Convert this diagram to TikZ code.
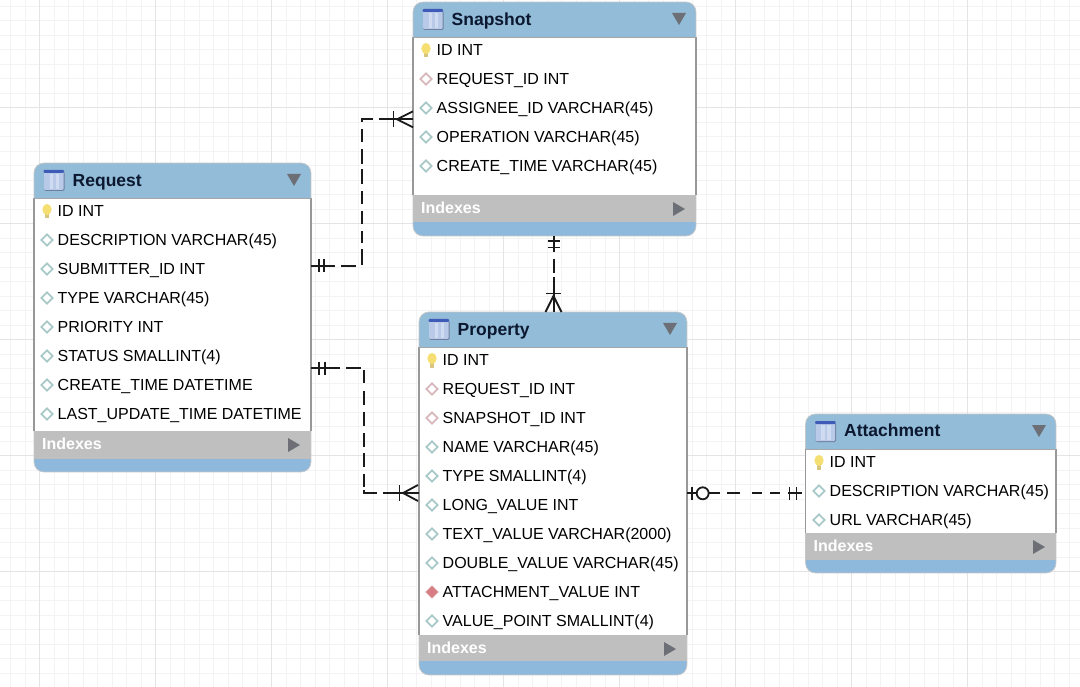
\documentclass[tikz,border=0pt]{standalone}
\usepackage{fontspec}
\setmainfont{Liberation Sans}
\usetikzlibrary{calc}
\definecolor{headblue}{HTML}{93BCD8}
\definecolor{footblue}{HTML}{8FB9DC}
\definecolor{idxgray}{HTML}{BFBFBF}
\definecolor{framegray}{HTML}{989898}
\definecolor{gridminor}{HTML}{F3F2F5}
\definecolor{gridmajor}{HTML}{E4E3E6}
\definecolor{trigray}{HTML}{6C7076}
\definecolor{tealdia}{HTML}{A9C9C8}
\definecolor{pinkdia}{HTML}{D8B8BC}
\definecolor{reddia}{HTML}{DB7C84}
\definecolor{reddiaedge}{HTML}{D59AA0}
\definecolor{bulb}{HTML}{F6DF72}
\definecolor{bulbstem}{HTML}{D8C680}
\definecolor{titleink}{HTML}{0B1830}
\definecolor{iconshade}{HTML}{6F7FA0}
\definecolor{iconbody}{HTML}{B9C9E8}
\definecolor{iconband}{HTML}{3F5BB8}
\definecolor{iconcol}{HTML}{CFDBF0}
\definecolor{inkline}{HTML}{1A1A1A}
\tikzset{
  x=1pt,y=-1pt,
  rowtext/.style={anchor=base west,inner sep=0pt,font=\fontsize{16}{18}\selectfont,text=black},
  titletext/.style={anchor=base west,inner sep=0pt,font=\fontsize{17.5}{20}\selectfont\bfseries,text=titleink},
  idxtext/.style={anchor=base west,inner sep=0pt,font=\fontsize{16}{18}\selectfont\bfseries,text=white},
  tableframe/.style={anchor=north west,inner sep=0pt,outer sep=0pt,fill=white,rounded corners=10pt},
  erline/.style={line width=1.8pt,inkline},
  ermark/.style={line width=1.8pt,inkline,solid},
}
\def\tshift{0}
% id, x0, x1, ytop, yhead, ywhite(gray start), ygray(gray end), ybot, title
\newcommand\ertable[9]{%
  \node[tableframe,minimum width={#3-#2},minimum height={#8-#4}] (#1) at (#2,#4) {};
  \begin{scope}
    \clip[rounded corners=10pt] (#2,#4) rectangle (#3,#8);
    \fill[headblue] (#2,#4) rectangle (#3,#5);
    \fill[idxgray] (#2,#6) rectangle (#3,#7);
    \fill[footblue] (#2,#7) rectangle (#3,#8);
  \end{scope}
  \draw[black!22,line width=.7pt,rounded corners=10pt] (#2,#4) rectangle (#3,#8);
  \draw[framegray,line width=1.5pt] (#2,#5) -- (#2,#6) (#3,#5) -- (#3,#6);
  \draw[black!35,line width=.6pt] (#2,#5) -- (#3,#5);
  % table icon
  \fill[iconshade,rounded corners=1.5pt] (#2+10,#4+8.5) rectangle (#2+30.5,#4+28);
  \fill[iconbody,rounded corners=1pt] (#2+10,#4+8) rectangle (#2+29.5,#4+27);
  \fill[iconband,rounded corners=1pt] (#2+9.5,#4+7) rectangle (#2+30,#4+10);
  \fill[iconcol] (#2+15.5,#4+11) rectangle (#2+19,#4+26);
  \fill[iconcol] (#2+21.5,#4+11) rectangle (#2+25,#4+26);
  \node[titletext] (#1-title) at (#2+38.5,#4+23+\tshift) {#9};
  % collapse triangles
  \fill[trigray] (#3-24,#4+11) -- (#3-10,#4+11) -- (#3-17,#4+23) -- cycle;
  \node[idxtext] (#1-idx) at (#2+8,#6+18.5) {Indexes};
  \fill[trigray] (#3-23,#6+7) -- (#3-11,#6+14) -- (#3-23,#6+21) -- cycle;
}
% key icons
\newcommand\ericon[3]{%
  \ifnum#1=0
    \fill[bulbstem] (#2-2,#3+2) rectangle (#2+2,#3+7.5);
    \fill[bulb] (#2,#3-1.5) ellipse [x radius=4.6,y radius=5.6];
  \else\ifnum#1=1
    \draw[tealdia,fill=white,line width=1.7pt] (#2-5.6,#3) -- (#2,#3-5.6) -- (#2+5.6,#3) -- (#2,#3+5.6) -- cycle;
  \else\ifnum#1=2
    \draw[pinkdia,fill=white,line width=1.7pt] (#2-5.6,#3) -- (#2,#3-5.6) -- (#2+5.6,#3) -- (#2,#3+5.6) -- cycle;
  \else
    \draw[reddiaedge,fill=reddia,line width=1pt] (#2-6,#3) -- (#2,#3-6) -- (#2+6,#3) -- (#2,#3+6) -- cycle;
  \fi\fi\fi
}
% id, x0, y of first row, list
\newcommand\errows[4]{%
  \foreach \k/\t [count=\i from 0] in {#4} {
    \pgfmathsetmacro\yy{#3+29*\i}
    \ericon{\k}{#2+13}{\yy}
    \node[rowtext] (#1-\i) at (#2+23.5,\yy+5.6) {\t};
  }
}
\begin{document}
\begin{tikzpicture}
\useasboundingbox (0,0) rectangle (1080,687);
\fill[white] (0,0) rectangle (1080,687);
% grid
\foreach \n in {0,...,74} {
  \draw[gridminor,line width=.9pt] (10.5+14.5*\n,0) -- (10.5+14.5*\n,687);
}
\foreach \n in {0,...,47} {
  \draw[gridminor,line width=.9pt] (0,6.2+14.5*\n) -- (1080,6.2+14.5*\n);
}
\foreach \n in {0,...,9} {
  \draw[gridmajor,line width=1pt] (39.5+116*\n,0) -- (39.5+116*\n,687);
}
\foreach \n in {0,...,4} {
  \draw[gridmajor,line width=1pt] (0,107.7+116*\n) -- (1080,107.7+116*\n);
}
% tables
\def\tshift{1}
\ertable{req}{34}{311}{163}{198}{431}{459}{472}{Request}
\errows{req}{34}{211}{0/ID INT,1/DESCRIPTION VARCHAR(45),1/SUBMITTER\_ID INT,1/TYPE VARCHAR(45),1/PRIORITY INT,1/STATUS SMALLINT(4),1/CREATE\_TIME DATETIME,1/LAST\_UPDATE\_TIME DATETIME}
\ertable{snap}{413}{696}{2}{37}{195}{222}{236}{Snapshot}
\errows{snap}{413}{50}{0/ID INT,2/REQUEST\_ID INT,1/ASSIGNEE\_ID VARCHAR(45),1/OPERATION VARCHAR(45),1/CREATE\_TIME VARCHAR(45)}
\def\tshift{0}
\ertable{prop}{419}{687}{312}{347}{635}{661}{675}{Property}
\errows{prop}{419}{360}{0/ID INT,2/REQUEST\_ID INT,2/SNAPSHOT\_ID INT,1/NAME VARCHAR(45),1/TYPE SMALLINT(4),1/LONG\_VALUE INT,1/TEXT\_VALUE VARCHAR(2000),1/DOUBLE\_VALUE VARCHAR(45),3/ATTACHMENT\_VALUE INT,1/VALUE\_POINT SMALLINT(4)}
\def\tshift{-1}
\ertable{att}{805.5}{1056}{414}{449}{533}{560}{573}{Attachment}
\errows{att}{806}{462}{0/ID INT,1/DESCRIPTION VARCHAR(45),1/URL VARCHAR(45)}
% connector bends
\coordinate (ra) at (361.7,265.7);
\coordinate (rb) at (361.7,119.3);
\coordinate (qa) at (364,368);
\coordinate (qb) at (364,493);
\coordinate (sp) at (554.2,250);
\coordinate (pa) at (700,493.3);
% Request -- Snapshot
\draw[erline,dash pattern=on 24pt off 6pt on 15pt off 6pt on 16pt off 6pt on 12pt off 7pt on 13pt off 7pt on 13pt off 7pt on 15pt off 5pt on 15pt off 7pt on 13pt off 7pt on 14.4pt off 6pt on 40pt]
  (req.east |- ra) -- (ra) -- (rb) -- (snap.west |- rb);
\draw[ermark] ($(req.east |- ra)+(8,-6.5)$) -- ++(0,13);
\draw[ermark] ($(req.east |- ra)+(13,-6.5)$) -- ++(0,13);
\draw[ermark] ($(snap.west |- rb)+(-19.5,-8)$) -- ++(0,16);
\draw[ermark] ($(snap.west |- rb)+(0,-8)$) -- ++(-16,8) -- ++(16,8);
% Request -- Property
\draw[erline,dash pattern=on 29pt off 6pt on 15pt off 5pt on 13pt off 8pt on 14pt off 7pt on 14pt off 7pt on 14pt off 6pt on 14pt off 7pt on 13pt off 3pt on 16pt off 6pt on 40pt]
  (req.east |- qa) -- (qa) -- (qb) -- (prop.west |- qb);
\draw[ermark] ($(req.east |- qa)+(8,-6.5)$) -- ++(0,13);
\draw[ermark] ($(req.east |- qa)+(14,-6.5)$) -- ++(0,13);
\draw[ermark] ($(prop.west |- qb)+(-19.5,-8)$) -- ++(0,16);
\draw[ermark] ($(prop.west |- qb)+(-1,-8)$) -- ++(-15,8) -- ++(15,8);
% Snapshot -- Property
\draw[erline,dash pattern=on 16pt off 7pt on 14pt off 4pt on 40pt]
  (snap.south -| sp) -- (prop.north -| sp);
\draw[ermark] ($(snap.south -| sp)+(-6.5,5)$) -- ++(12.5,0);
\draw[ermark] ($(snap.south -| sp)+(-6.5,11.5)$) -- ++(12.5,0);
\draw[ermark] ($(prop.north -| sp)+(-8.5,-18.5)$) -- ++(15,0);
\draw[ermark] ($(prop.north -| sp)+(-8.7,0)$) -- ++(8,-16) -- ++(8,16);
% Property -- Attachment
\draw[erline,dash pattern=on 33pt off 7pt on 13pt off 12pt on 10pt off 8pt on 10pt off 8pt on 14pt off 4pt]
  (prop.east |- pa) -- (att.west |- pa);
\draw[ermark] ($(prop.east |- pa)+(5,-6.5)$) -- ++(0,13);
\draw[ermark,fill=white] (pa) ++(2.7,0) circle [radius=6];
\draw[ermark] ($(att.west |- pa)+(-16,-6.5)$) -- ++(0,13);
\draw[ermark] ($(att.west |- pa)+(-9,-6.5)$) -- ++(0,13);
\end{tikzpicture}
\end{document}
